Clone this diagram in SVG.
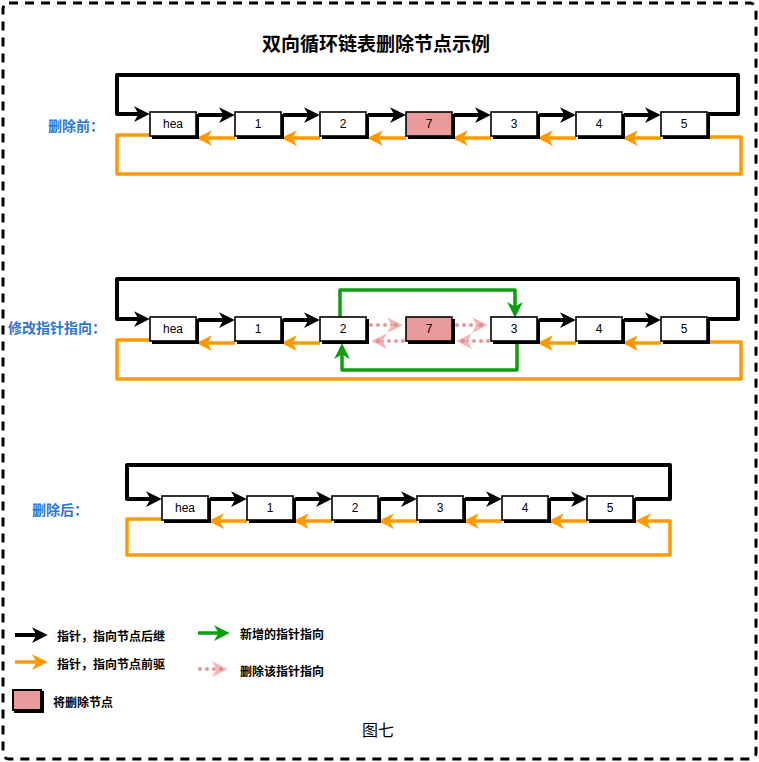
<svg xmlns="http://www.w3.org/2000/svg" width="759" height="762" viewBox="0 0 759 762">
<style>
.bx{fill:#fff;stroke:#000;stroke-width:1.6}
.del{fill:#e99a9a}
.sh{fill:#000}
.nt{font-family:"Liberation Sans",Arial,sans-serif;font-size:12px;fill:#000;text-anchor:middle}
.lbl{font-family:"Noto Sans CJK SC","Noto Sans",sans-serif;font-size:14px;font-weight:bold;fill:#2e75d4}
.lg{font-family:"Noto Sans CJK SC","Noto Sans",sans-serif;font-size:12px;font-weight:bold;fill:#000}
.blk{fill:none;stroke:#000;stroke-width:4;stroke-linejoin:round}
.org{fill:none;stroke:#ff9900;stroke-width:3.5;stroke-linejoin:round}
.grn{fill:none;stroke:#109c10;stroke-width:3.5;stroke-linejoin:round}
.pnk{fill:none;stroke:#e47f7f;stroke-width:4;stroke-linecap:round;stroke-dasharray:0 7;opacity:0.8}
</style>
<defs>
<marker id="mB" viewBox="0 0 16 16" refX="9" refY="8" markerWidth="18" markerHeight="18" markerUnits="userSpaceOnUse" orient="auto"><path d="M1,1 L15,8 L1,15 L5,8 z" fill="#000"/></marker>
<marker id="mO" viewBox="0 0 16 16" refX="9" refY="8" markerWidth="18" markerHeight="18" markerUnits="userSpaceOnUse" orient="auto"><path d="M1,1 L15,8 L1,15 L5,8 z" fill="#ff9900"/></marker>
<marker id="mG" viewBox="0 0 16 16" refX="9" refY="8" markerWidth="18" markerHeight="18" markerUnits="userSpaceOnUse" orient="auto"><path d="M1,1 L15,8 L1,15 L5,8 z" fill="#109c10"/></marker>
<marker id="mP" viewBox="0 0 16 16" refX="9" refY="8" markerWidth="18" markerHeight="18" markerUnits="userSpaceOnUse" orient="auto"><path d="M1,1 L15,8 L1,15 L5,8 z" fill="#ee9494" opacity="0.85"/><circle cx="9" cy="8" r="1.8" fill="#e06c6c"/></marker>
</defs>

<rect x="3" y="3" width="753" height="756" rx="6" fill="#fff" stroke="#000" stroke-width="3" stroke-dasharray="9 7"/>

<text x="376" y="51" text-anchor="middle" font-family="'Noto Sans CJK SC','Noto Sans',sans-serif" font-size="19" font-weight="bold" fill="#000">双向循环链表删除节点示例</text>

<text class="lbl" x="48" y="131">删除前：</text>
<text class="lbl" x="8" y="333">修改指针指向：</text>
<text class="lbl" x="32" y="515">删除后：</text>

<g id="connectors">
<!-- row 1 -->
<path class="blk" d="M198,115 H228" marker-end="url(#mB)"/>
<path class="blk" d="M283,115 H313" marker-end="url(#mB)"/>
<path class="blk" d="M368,115 H399" marker-end="url(#mB)"/>
<path class="blk" d="M454,115 H484" marker-end="url(#mB)"/>
<path class="blk" d="M539,115 H569" marker-end="url(#mB)"/>
<path class="blk" d="M624,115 H654" marker-end="url(#mB)"/>
<path class="blk" d="M708,114 H738 V75 H117 V114 H143" marker-end="url(#mB)"/>
<path class="org" d="M235,138 H203" marker-end="url(#mO)"/>
<path class="org" d="M320,138 H288" marker-end="url(#mO)"/>
<path class="org" d="M406,138 H374" marker-end="url(#mO)"/>
<path class="org" d="M491,138 H459" marker-end="url(#mO)"/>
<path class="org" d="M576,138 H544" marker-end="url(#mO)"/>
<path class="org" d="M661,138 H629" marker-end="url(#mO)"/>
<path class="org" d="M150,135 H117 V174 H741 V137 H708"/>
<!-- row 2 -->
<path class="blk" d="M198,320 H228" marker-end="url(#mB)"/>
<path class="blk" d="M283,320 H313" marker-end="url(#mB)"/>
<path class="blk" d="M539,320 H569" marker-end="url(#mB)"/>
<path class="blk" d="M624,320 H654" marker-end="url(#mB)"/>
<path class="blk" d="M708,319 H738 V279 H117 V319 H143" marker-end="url(#mB)"/>
<path class="org" d="M235,343 H203" marker-end="url(#mO)"/>
<path class="org" d="M320,343 H288" marker-end="url(#mO)"/>
<path class="org" d="M576,343 H544" marker-end="url(#mO)"/>
<path class="org" d="M661,343 H629" marker-end="url(#mO)"/>
<path class="org" d="M150,340 H117 V379 H741 V342 H708"/>
<path class="grn" d="M340,317 V290 H515 V311" marker-end="url(#mG)"/>
<path class="grn" d="M517,343 V370 H342 V350" marker-end="url(#mG)"/>
<path class="pnk" d="M371,325 H396" marker-end="url(#mP)"/>
<path class="pnk" d="M457,325 H481" marker-end="url(#mP)"/>
<path class="pnk" d="M403,341 H378" marker-end="url(#mP)"/>
<path class="pnk" d="M488,341 H463" marker-end="url(#mP)"/>
<!-- row 3 -->
<path class="blk" d="M210,499 H240" marker-end="url(#mB)"/>
<path class="blk" d="M295,499 H325" marker-end="url(#mB)"/>
<path class="blk" d="M380,499 H410" marker-end="url(#mB)"/>
<path class="blk" d="M465,499 H495" marker-end="url(#mB)"/>
<path class="blk" d="M550,499 H580" marker-end="url(#mB)"/>
<path class="blk" d="M635,499 H670 V465 H127 V499 H155" marker-end="url(#mB)"/>
<path class="org" d="M247,521 H215" marker-end="url(#mO)"/>
<path class="org" d="M332,521 H300" marker-end="url(#mO)"/>
<path class="org" d="M417,521 H385" marker-end="url(#mO)"/>
<path class="org" d="M502,521 H470" marker-end="url(#mO)"/>
<path class="org" d="M587,521 H555" marker-end="url(#mO)"/>
<path class="org" d="M162,519 H127 V555 H670 V521 H642" marker-end="url(#mO)"/>
<!-- legend -->
<path class="blk" d="M15,635 H41" marker-end="url(#mB)"/>
<path class="org" d="M15,662 H41" marker-end="url(#mO)"/>
<path class="grn" d="M198,633 H223" marker-end="url(#mG)"/>
<path class="pnk" d="M200,669 H221" marker-end="url(#mP)"/>
</g>

<!-- row 1 nodes -->
<g id="r1-hea"><rect class="sh" x="152" y="114" width="47" height="25"/><rect class="bx" x="150" y="112" width="46" height="24"/><text class="nt" x="173" y="128">hea</text></g>
<g id="r1-n1"><rect class="sh" x="237" y="114" width="47" height="25"/><rect class="bx" x="235" y="112" width="46" height="24"/><text class="nt" x="258" y="128">1</text></g>
<g id="r1-n2"><rect class="sh" x="322" y="114" width="47" height="25"/><rect class="bx" x="320" y="112" width="46" height="24"/><text class="nt" x="343" y="128">2</text></g>
<g id="r1-n7"><rect class="sh" x="408" y="114" width="47" height="25"/><rect class="bx del" x="406" y="112" width="46" height="24"/><text class="nt" x="429" y="128">7</text></g>
<g id="r1-n3"><rect class="sh" x="493" y="114" width="47" height="25"/><rect class="bx" x="491" y="112" width="46" height="24"/><text class="nt" x="514" y="128">3</text></g>
<g id="r1-n4"><rect class="sh" x="578" y="114" width="47" height="25"/><rect class="bx" x="576" y="112" width="46" height="24"/><text class="nt" x="599" y="128">4</text></g>
<g id="r1-n5"><rect class="sh" x="663" y="114" width="47" height="25"/><rect class="bx" x="661" y="112" width="46" height="24"/><text class="nt" x="684" y="128">5</text></g>

<!-- row 2 nodes -->
<g id="r2-hea"><rect class="sh" x="152" y="319" width="47" height="25"/><rect class="bx" x="150" y="317" width="46" height="24"/><text class="nt" x="173" y="333">hea</text></g>
<g id="r2-n1"><rect class="sh" x="237" y="319" width="47" height="25"/><rect class="bx" x="235" y="317" width="46" height="24"/><text class="nt" x="258" y="333">1</text></g>
<g id="r2-n2"><rect class="sh" x="322" y="319" width="47" height="25"/><rect class="bx" x="320" y="317" width="46" height="24"/><text class="nt" x="343" y="333">2</text></g>
<g id="r2-n7"><rect class="sh" x="408" y="319" width="47" height="25"/><rect class="bx del" x="406" y="317" width="46" height="24"/><text class="nt" x="429" y="333">7</text></g>
<g id="r2-n3"><rect class="sh" x="493" y="319" width="47" height="25"/><rect class="bx" x="491" y="317" width="46" height="24"/><text class="nt" x="514" y="333">3</text></g>
<g id="r2-n4"><rect class="sh" x="578" y="319" width="47" height="25"/><rect class="bx" x="576" y="317" width="46" height="24"/><text class="nt" x="599" y="333">4</text></g>
<g id="r2-n5"><rect class="sh" x="663" y="319" width="47" height="25"/><rect class="bx" x="661" y="317" width="46" height="24"/><text class="nt" x="684" y="333">5</text></g>

<!-- row 3 nodes -->
<g id="r3-hea"><rect class="sh" x="164" y="498" width="47" height="25"/><rect class="bx" x="162" y="496" width="46" height="24"/><text class="nt" x="185" y="512">hea</text></g>
<g id="r3-n1"><rect class="sh" x="249" y="498" width="47" height="25"/><rect class="bx" x="247" y="496" width="46" height="24"/><text class="nt" x="270" y="512">1</text></g>
<g id="r3-n2"><rect class="sh" x="334" y="498" width="47" height="25"/><rect class="bx" x="332" y="496" width="46" height="24"/><text class="nt" x="355" y="512">2</text></g>
<g id="r3-n3"><rect class="sh" x="419" y="498" width="47" height="25"/><rect class="bx" x="417" y="496" width="46" height="24"/><text class="nt" x="440" y="512">3</text></g>
<g id="r3-n4"><rect class="sh" x="504" y="498" width="47" height="25"/><rect class="bx" x="502" y="496" width="46" height="24"/><text class="nt" x="525" y="512">4</text></g>
<g id="r3-n5"><rect class="sh" x="589" y="498" width="47" height="25"/><rect class="bx" x="587" y="496" width="46" height="24"/><text class="nt" x="610" y="512">5</text></g>

<!-- legend -->
<g id="legend">
<text class="lg" x="57" y="641">指针，指向节点后继</text>
<text class="lg" x="57" y="669">指针，指向节点前驱</text>
<text class="lg" x="240" y="639">新增的指针指向</text>
<text class="lg" x="240" y="676">删除该指针指向</text>
<rect class="sh" x="14" y="691" width="30" height="22"/>
<rect x="13" y="690" width="28" height="20" fill="#e99a9a" stroke="#000" stroke-width="2"/>
<text class="lg" x="53" y="707">将删除节点</text>
</g>

<text x="378" y="736" text-anchor="middle" font-family="'Noto Sans CJK SC','Noto Sans',sans-serif" font-size="16" fill="#000">图七</text>
</svg>
